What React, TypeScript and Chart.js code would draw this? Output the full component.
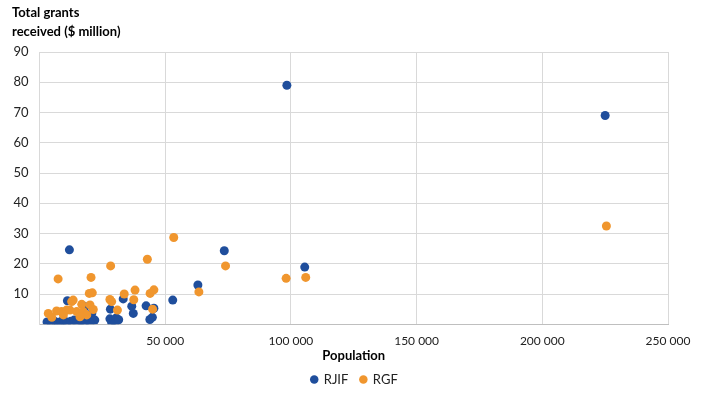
import React, { useEffect, useRef } from 'react';
import { Chart, registerables } from 'chart.js';

Chart.register(...registerables);

const titleLines = ['Total grants', 'received ($ million)'];
const xAxisTitle = 'Population';
const seriesNames = ['RJIF', 'RGF'];

const rjifPopulation = [
  98400, 225000, 105500, 73500, 63000, 53000, 11900,
  42400, 45500, 44900, 43900, 36700, 37300, 33300, 28200,
  28000, 28700, 29500, 30500, 30000, 31500,
  18100, 20800, 20500, 22000, 20100, 11100,
  3000, 4500, 6000, 7500, 8500, 9800, 11000, 12500, 13800, 15000, 16500, 18000,
];
const rjifGrants = [
  79, 69, 18.9, 24.3, 13.0, 8.0, 24.6,
  6.1, 5.3, 2.3, 1.6, 6.0, 3.6, 8.4, 5.0,
  1.8, 0.6, 1.3, 2.1, 0.4, 1.5,
  5.8, 3.6, 2.0, 1.4, 0.4, 7.8,
  0.8, 0.6, 1.0, 0.5, 0.9, 1.2, 0.7, 1.0, 1.4, 0.8, 1.1, 0.6,
];

const rgfPopulation = [
  225500, 53400, 42900, 74000, 28300, 98100, 105900, 7400, 20500,
  63400, 44000, 45500, 38000, 33700, 19800, 21000, 28000, 28700, 37500,
  45000, 31000, 16800, 20100, 21400, 12800, 13400,
  3500, 4900, 6800, 8800, 10800, 12100, 14800, 17400, 18800, 9500, 16100,
];
const rgfGrants = [
  32.5, 28.7, 21.5, 19.3, 19.3, 15.2, 15.5, 15.0, 15.5,
  10.7, 10.2, 11.4, 11.3, 10.0, 10.2, 10.4, 8.2, 7.5, 8.1,
  5.0, 4.7, 6.6, 6.4, 4.9, 7.5, 8.0,
  3.6, 2.3, 4.4, 4.2, 4.7, 4.7, 4.2, 4.2, 3.1, 3.1, 2.5,
];

const xMax = 250000;
const xStep = 50000;
const yMax = 90;
const yStep = 10;

const FONT = 'Lato, "Open Sans", sans-serif';

const titlePlugin = {
  id: 'topLeftTitle',
  afterLayout(chart: any) {
    // centre the legend across the full canvas width, as in the original
    if (chart.legend) {
      chart.legend.left = 0;
      chart.legend.right = chart.width;
    }
  },
  afterDraw(chart: any) {
    const ctx = chart.ctx;
    ctx.save();
    ctx.font = `bold 13px ${FONT}`;
    ctx.fillStyle = '#000000';
    ctx.textAlign = 'left';
    ctx.textBaseline = 'middle';
    titleLines.forEach((t, i) => ctx.fillText(t, 12, 13 + i * 19));
    ctx.restore();
  },
};

export default function App() {
  const ref = useRef<HTMLCanvasElement | null>(null);

  useEffect(() => {
    document.body.style.margin = '0';
    const canvas = ref.current;
    if (!canvas) return;
    const toPts = (xs: number[], ys: number[]) => xs.map((x, i) => ({ x, y: ys[i] }));
    const chart = new Chart(canvas, {
      type: 'scatter',
      data: {
        datasets: [
          {
            label: seriesNames[0],
            data: toPts(rjifPopulation, rjifGrants),
            backgroundColor: '#1F4E9C',
            borderColor: '#1F4E9C',
            borderWidth: 0,
            pointRadius: 4.5,
            pointHoverRadius: 4.5,
            order: 1,
          },
          {
            label: seriesNames[1],
            data: toPts(rgfPopulation, rgfGrants),
            backgroundColor: '#F0962E',
            borderColor: '#F0962E',
            borderWidth: 0,
            pointRadius: 4.5,
            pointHoverRadius: 4.5,
            order: 0,
          },
        ],
      },
      options: {
        responsive: false,
        animation: false,
        layout: { padding: { top: 52, right: 41, bottom: 0, left: 0 } },
        plugins: {
          title: { display: false },
          tooltip: { enabled: false },
          legend: {
            display: true,
            position: 'bottom',
            labels: {
              usePointStyle: true,
              pointStyle: 'circle',
              boxWidth: 6,
              boxHeight: 6,
              padding: 12,
              color: '#222222',
              font: { family: FONT, size: 13 },
              sort: (a: any, b: any) => a.datasetIndex - b.datasetIndex,
            },
          },
        },
        scales: {
          x: {
            type: 'linear',
            min: 0,
            max: xMax,
            ticks: {
              stepSize: xStep,
              padding: 10,
              color: '#222222',
              font: { family: FONT, size: 12 },
              maxRotation: 0,
              callback: (v: any) => (v === 0 ? '' : Number(v).toLocaleString('en-US').replace(/,/g, ' ')),
            },
            title: {
              display: true,
              text: xAxisTitle,
              color: '#000000',
              font: { family: FONT, size: 13, weight: 'bold' },
              padding: { top: 0, bottom: -3 },
            },
            grid: { color: '#D9D9D9', drawTicks: false },
            border: { color: '#BFBFBF' },
            afterFit: (s: any) => {
              s.height = 36.7;
            },
          },
          y: {
            min: 0,
            max: yMax,
            ticks: {
              stepSize: yStep,
              padding: 11,
              color: '#222222',
              font: { family: FONT, size: 13 },
              callback: (v: any) => (v === 0 ? '' : String(v)),
            },
            grid: { color: '#D9D9D9', drawTicks: false },
            border: { color: '#D9D9D9' },
            afterFit: (s: any) => {
              s.width = 39.5;
            },
          },
        },
      },
      plugins: [titlePlugin],
    });
    return () => chart.destroy();
  }, []);

  return (
    <div style={{ width: 709, height: 396 }}>
      <canvas ref={ref} width={709} height={396} />
    </div>
  );
}
